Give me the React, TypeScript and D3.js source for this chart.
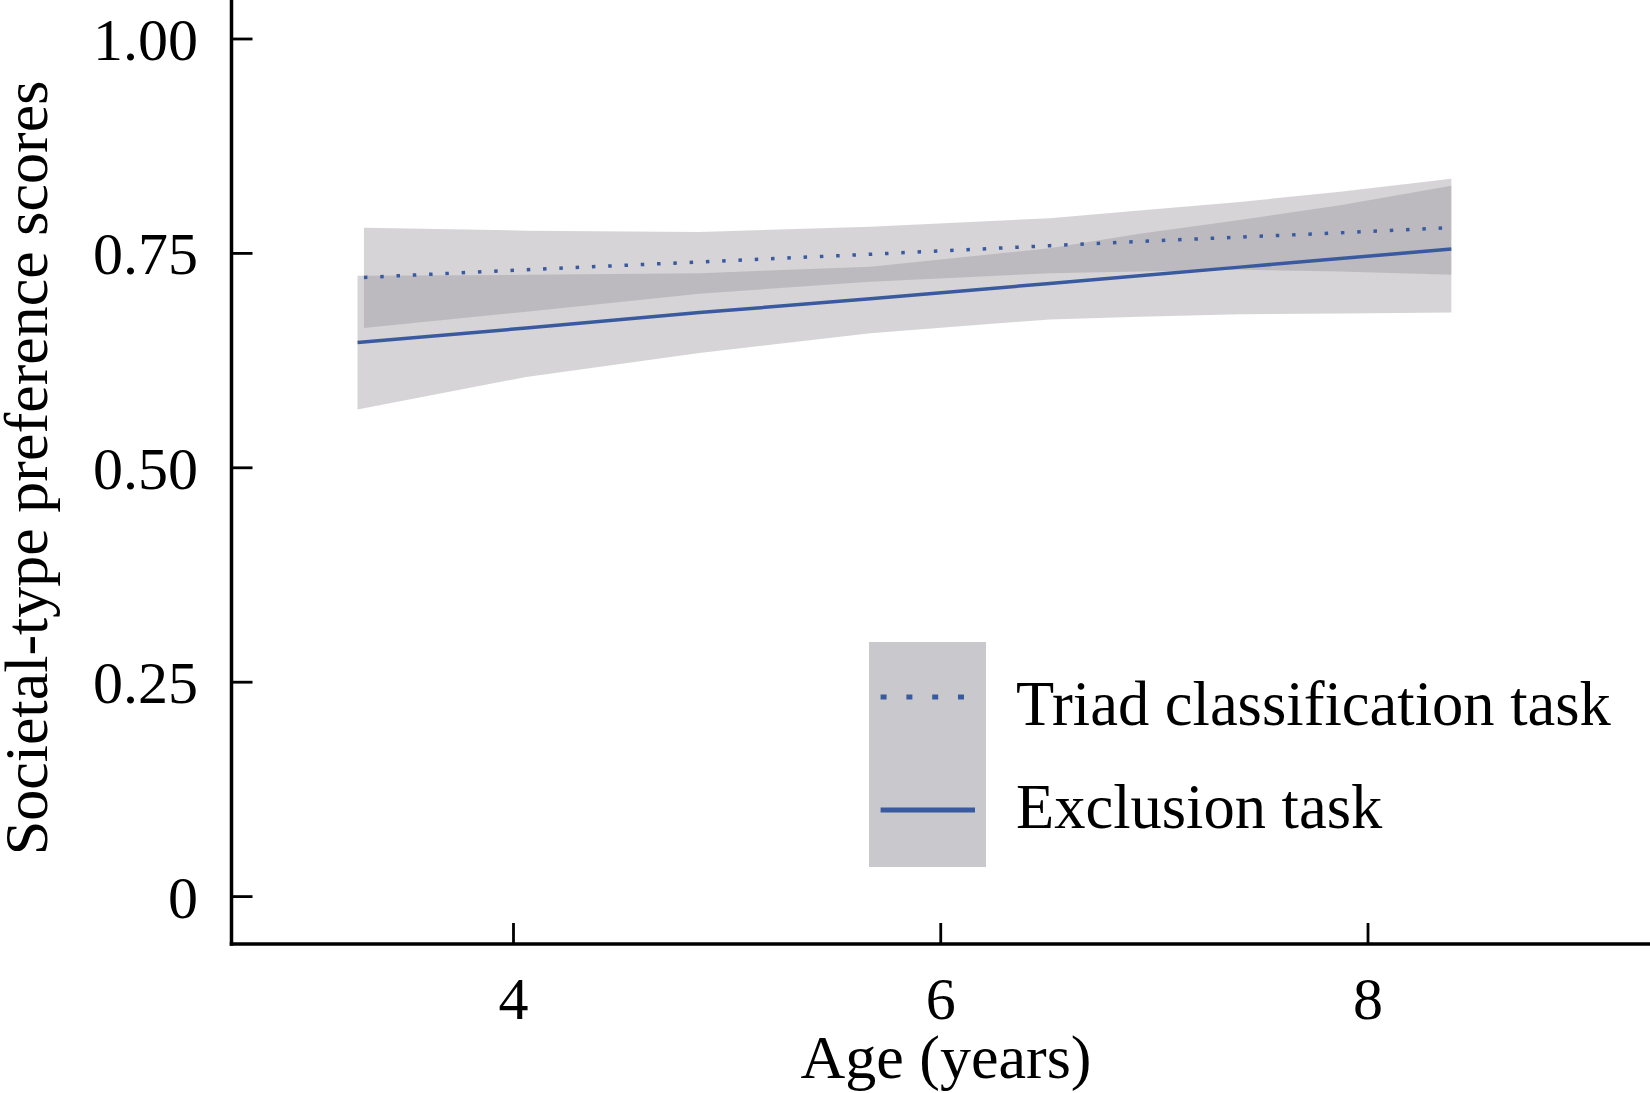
import React from 'react'
import * as d3 from 'd3'

// values (age in years, predicted score, CI bounds)
const exclusionAges = [3.27, 4.06, 4.87, 5.67, 6.51, 6.93, 7.4, 7.87, 8.39]
const exclusionFit = [0.646, 0.663, 0.681, 0.697, 0.715, 0.724, 0.734, 0.744, 0.755]
const exclusionLower = [0.568, 0.606, 0.634, 0.657, 0.673, 0.676, 0.679, 0.68, 0.681]
const exclusionUpper = [0.724, 0.725, 0.727, 0.7345, 0.756, 0.773, 0.789, 0.806, 0.829]

const triadAges = [3.3, 4.06, 4.87, 5.67, 6.51, 6.93, 7.4, 7.87, 8.39]
const triadFit = [0.722, 0.731, 0.74, 0.749, 0.759, 0.764, 0.769, 0.774, 0.78]
const triadLower = [0.663, 0.682, 0.703, 0.717, 0.727, 0.729, 0.731, 0.729, 0.725]
const triadUpper = [0.78, 0.7765, 0.775, 0.781, 0.791, 0.8, 0.81, 0.822, 0.837]

const xTicks = [4, 6, 8]
const yTicks = [0, 0.25, 0.5, 0.75, 1]
const yTickLabels = ['0', '0.25', '0.50', '0.75', '1.00']
const legendLabels = ['Triad classification task', 'Exclusion task']

const width = 1650
const height = 1093
const axisLeft = 231.5
const axisBottom = 944
const font = '"Liberation Serif", "Times New Roman", serif'
const blue = '#3a5aa0'

const x = d3.scaleLinear().domain([2.68, 9.32]).range([axisLeft, width])
const y = d3.scaleLinear().domain([0, 1]).range([896.6, 39])

const toRows = (ages, fit, lo, hi) =>
  ages.map((a, i) => ({ age: a, fit: fit[i], lo: lo[i], hi: hi[i] }))

const exclusion = toRows(exclusionAges, exclusionFit, exclusionLower, exclusionUpper)
const triad = toRows(triadAges, triadFit, triadLower, triadUpper)

const band = d3
  .area<any>()
  .x((d) => x(d.age))
  .y0((d) => y(d.lo))
  .y1((d) => y(d.hi))

const fitLine = d3
  .line<any>()
  .x((d) => x(d.age))
  .y((d) => y(d.fit))

const App = () => {
  return (
    <svg
      width={width}
      height={height}
      style={{ position: 'absolute', left: 0, top: 0, display: 'block', background: '#fff' }}
      fontFamily={font}
    >
      {/* confidence ribbons */}
      <g fill="rgb(152,147,155)" fillOpacity={0.4}>
        <path d={band(exclusion)} />
        <path d={band(triad)} />
      </g>

      {/* fitted lines */}
      <path d={fitLine(exclusion)} fill="none" stroke={blue} strokeWidth={3.5} />
      <path
        d={fitLine(triad)}
        fill="none"
        stroke={blue}
        strokeWidth={3.5}
        strokeDasharray="3.5 12.8"
      />

      {/* axes */}
      <g stroke="#000">
        <line x1={axisLeft} x2={axisLeft} y1={0} y2={axisBottom + 1.75} strokeWidth={3.5} />
        <line x1={axisLeft - 1.75} x2={width} y1={axisBottom} y2={axisBottom} strokeWidth={3.5} />
        {yTicks.map((t) => (
          <line key={t} x1={axisLeft} x2={axisLeft + 21} y1={y(t)} y2={y(t)} strokeWidth={2.8} />
        ))}
        {xTicks.map((t) => (
          <line key={t} x1={x(t)} x2={x(t)} y1={axisBottom} y2={axisBottom - 21} strokeWidth={2.8} />
        ))}
      </g>

      <g fontSize={60} fill="#000">
        {yTicks.map((t, i) => (
          <text key={t} x={198} y={y(t) + 21} textAnchor="end">
            {yTickLabels[i]}
          </text>
        ))}
        {xTicks.map((t) => (
          <text key={t} x={x(t)} y={1019} textAnchor="middle">
            {t}
          </text>
        ))}
      </g>

      {/* axis titles */}
      <text x={946} y={1078} textAnchor="middle" fontSize={62}>
        Age (years)
      </text>
      <text
        transform="rotate(-90)"
        x={-468}
        y={47}
        textAnchor="middle"
        fontSize={62}
      >
        Societal-type preference scores
      </text>

      {/* legend */}
      <rect x={869} y={642} width={117} height={225} fill="#c9c8cd" />
      <line
        x1={880.6}
        x2={964}
        y1={697}
        y2={697}
        stroke={blue}
        strokeWidth={5}
        strokeDasharray="6 19.8"
      />
      <line x1={880.6} x2={975} y1={810} y2={810} stroke={blue} strokeWidth={5} />
      <g fontSize={62.5} fill="#000">
        <text x={1016} y={725}>{legendLabels[0]}</text>
        <text x={1016} y={828}>{legendLabels[1]}</text>
      </g>
    </svg>
  )
}

export default App
